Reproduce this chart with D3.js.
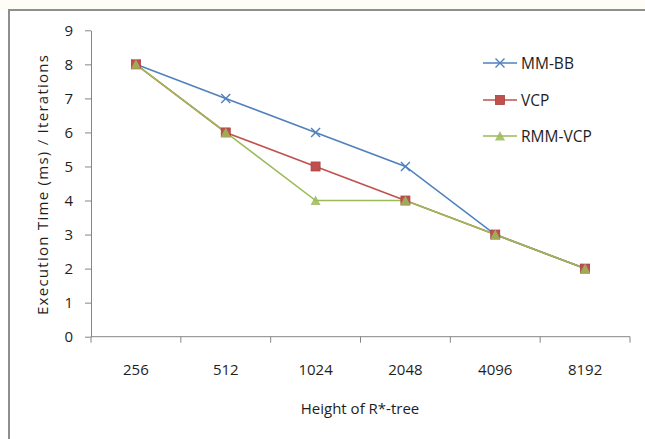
<!DOCTYPE html>
<html>
<head>
<meta charset="utf-8">
<script src="https://cdn.jsdelivr.net/npm/d3@7"></script>
<style>
  body { margin: 0; background: #fff; overflow: hidden; }
  text { font-family: "Open Sans", sans-serif; fill: #1e1e1e; }
</style>
</head>
<body>
<svg></svg>
<script>
let width = 645, height = 439;

// data
const heights = ["256", "512", "1024", "2048", "4096", "8192"];
const mmbb = [8, 7, 6, 5, 3, 2];
const vcp = [8, 6, 5, 4, 3, 2];
const rmmvcp = [8, 6, 4, 4, 3, 2];
const yTicks = [0, 1, 2, 3, 4, 5, 6, 7, 8, 9];

const series = [
    { name: "MM-BB", values: mmbb, color: "#4F81BD", marker: "cross" },
    { name: "VCP", values: vcp, color: "#C0504D", marker: "square" },
    { name: "RMM-VCP", values: rmmvcp, color: "#9BBB59", marker: "triangle" }
];

let svg = d3.select("svg")
    .attr("width", width)
    .attr("height", height)
    .style("display", "block");

// faint watermark band above the frame
svg.append("rect")
    .attr("x", 0).attr("y", 0)
    .attr("width", width).attr("height", 10)
    .attr("fill", "#fdfcf5");

// outer chart frame
svg.append("rect")
    .attr("x", 9).attr("y", 10)
    .attr("width", width + 20).attr("height", height + 20)
    .attr("fill", "#fff")
    .attr("stroke", "#8e8e8e")
    .attr("stroke-width", 2);

let x = d3.scaleBand().domain(heights).range([91, 630]);
let y = d3.scaleLinear().domain([0, 9]).range([336.7, 30.3]);
let cx = d => x(d) + x.bandwidth() / 2;

const axisColor = "#868686";
const fs = 15;

// y axis
let yAxis = svg.append("g")
    .attr("transform", "translate(91,0)")
    .call(d3.axisLeft(y).tickValues(yTicks).tickSize(6).tickSizeOuter(0).tickPadding(12));
yAxis.select(".domain").attr("stroke", axisColor);
yAxis.selectAll(".tick line").attr("stroke", axisColor);
yAxis.selectAll(".tick text")
    .attr("font-family", "Open Sans, sans-serif")
    .attr("font-size", fs)
    .attr("fill", "#1e1e1e");

// x axis line and boundary ticks
svg.append("line")
    .attr("x1", 91).attr("x2", 630)
    .attr("y1", y(0)).attr("y2", y(0))
    .attr("stroke", axisColor);

let bounds = heights.map(h => x(h)).concat([x.range()[1]]);
svg.selectAll(".xtick")
    .data(bounds)
    .enter()
    .append("line")
    .attr("class", "xtick")
    .attr("x1", d => d).attr("x2", d => d)
    .attr("y1", y(0)).attr("y2", y(0) + 6)
    .attr("stroke", axisColor);

svg.selectAll(".xlabel")
    .data(heights)
    .enter()
    .append("text")
    .attr("class", "xlabel")
    .attr("x", d => cx(d))
    .attr("y", 375)
    .attr("text-anchor", "middle")
    .attr("font-size", fs)
    .text(d => d);

// axis titles
svg.append("text")
    .attr("x", 360)
    .attr("y", 414)
    .attr("text-anchor", "middle")
    .attr("font-size", fs)
    .text("Height of R*-tree");

svg.append("text")
    .attr("transform", "translate(48,185) rotate(-90)")
    .attr("text-anchor", "middle")
    .attr("font-size", fs)
    .attr("textLength", 260)
    .attr("lengthAdjust", "spacing")
    .text("Execution Time (ms) / Iterations");

function drawMarker(g, type, color) {
    if (type === "cross") {
        g.append("path")
            .attr("d", "M-4.5,-4.5L4.5,4.5M-4.5,4.5L4.5,-4.5")
            .attr("stroke", color)
            .attr("stroke-width", 1.4)
            .attr("fill", "none");
    } else if (type === "square") {
        g.append("rect")
            .attr("x", -4.5).attr("y", -4.5)
            .attr("width", 9).attr("height", 9)
            .attr("fill", color)
            .attr("stroke", "#a9403d")
            .attr("stroke-width", 0.8);
    } else {
        g.append("path")
            .attr("d", "M0,-5L5,4.5L-5,4.5Z")
            .attr("fill", color)
            .attr("fill-opacity", 0.85);
    }
}

let line = d3.line()
    .x((d, i) => cx(heights[i]))
    .y(d => y(d));

series.forEach(s => {
    svg.append("path")
        .datum(s.values)
        .attr("d", line)
        .attr("fill", "none")
        .attr("stroke", s.color)
        .attr("stroke-width", 1.6);
});

series.forEach(s => {
    s.values.forEach((v, i) => {
        let g = svg.append("g")
            .attr("transform", "translate(" + cx(heights[i]) + "," + y(v) + ")");
        drawMarker(g, s.marker, s.color);
    });
});

// legend
let legendY = [63, 100, 136];
series.forEach((s, i) => {
    let g = svg.append("g").attr("transform", "translate(0," + legendY[i] + ")");
    g.append("line")
        .attr("x1", 483).attr("x2", 517)
        .attr("y1", 0).attr("y2", 0)
        .attr("stroke", s.color)
        .attr("stroke-width", 1.6);
    let m = g.append("g").attr("transform", "translate(500,0)");
    drawMarker(m, s.marker, s.color);
    g.append("text")
        .attr("x", 521)
        .attr("y", 5.5)
        .attr("font-size", 15.5)
        .text(s.name);
});
</script>
</body>
</html>
